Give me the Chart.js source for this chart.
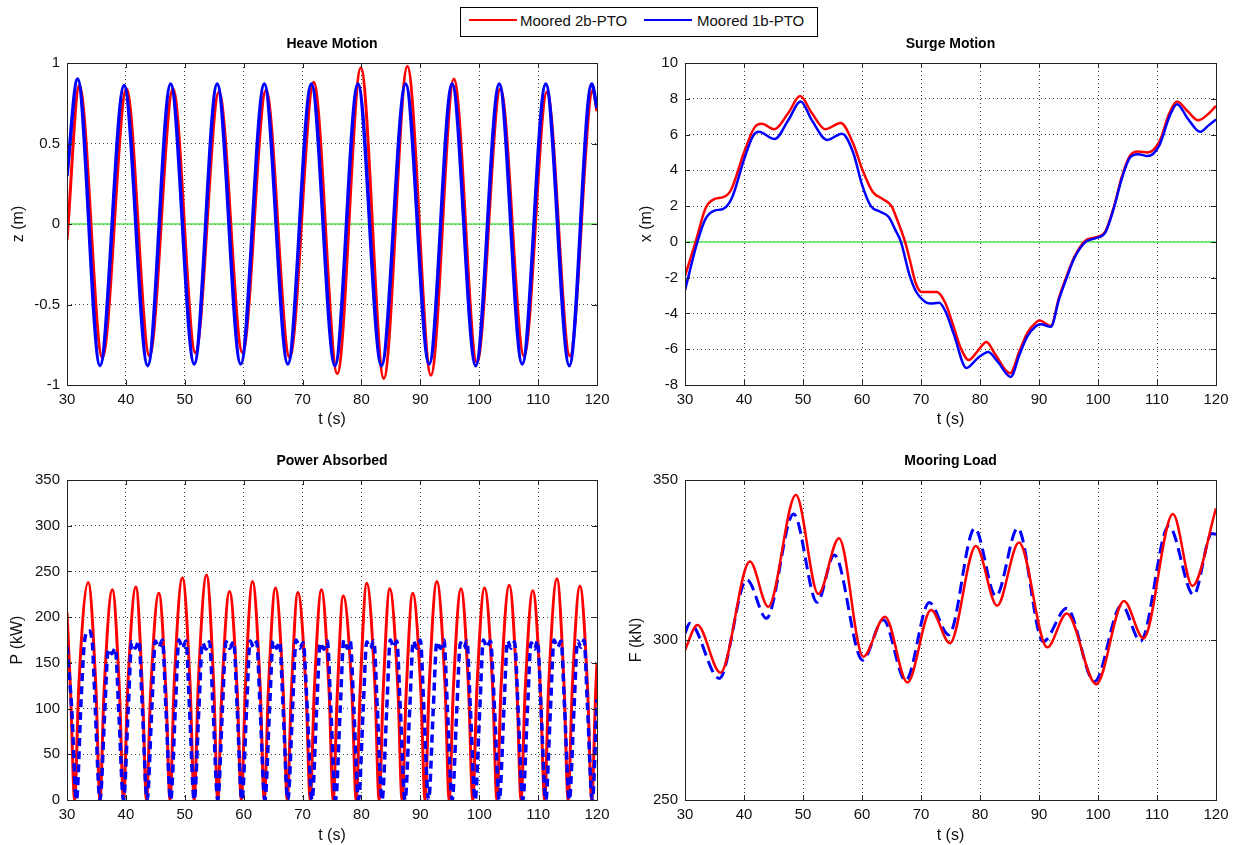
<!DOCTYPE html>
<html>
<head>
<meta charset="utf-8">
<title>Moored 2b-PTO vs 1b-PTO</title>
<script src="https://cdn.jsdelivr.net/npm/chart.js@4.4.1/dist/chart.umd.min.js"></script>
<style>
  body { margin: 0; background: #fff; width: 1235px; height: 845px; position: relative; overflow: hidden;
         font-family: "Liberation Sans", Arial, sans-serif; }
  canvas { position: absolute; }
  #legend { position: absolute; left: 460px; top: 7px; width: 356px; height: 28px; border: 1px solid #000; background: #fff; }
  #legend .sw { position: absolute; top: 11px; height: 2px; width: 48px; }
  #legend .lb { position: absolute; top: 3px; font-size: 15px; line-height: 20px; color: #111; white-space: nowrap; }
</style>
</head>
<body>
<div id="legend">
  <div class="sw" style="left:8px;background:#ff0000"></div><div class="lb" style="left:59px">Moored 2b-PTO</div>
  <div class="sw" style="left:183px;background:#0000ff"></div><div class="lb" style="left:236px">Moored 1b-PTO</div>
</div>
<canvas id="heave" width="620" height="410" style="left:0;top:30px"></canvas>
<canvas id="surge" width="615" height="410" style="left:620px;top:30px"></canvas>
<canvas id="power" width="620" height="405" style="left:0;top:440px"></canvas>
<canvas id="mooring" width="615" height="405" style="left:620px;top:440px"></canvas>
<script>
// values (t in s)
const timeTicks = [30, 40, 50, 60, 70, 80, 90, 100, 110, 120];
const zeroT = [30, 120];
const zeroV = [0, 0];

// heave z (m) - peaks and troughs
const heaveTicks = [-1, -0.5, 0, 0.5, 1];
const heaveT2b = [30, 32.1, 36.0, 40.1, 44.0, 48.0, 51.8, 55.8, 59.8, 63.8, 67.8, 71.9, 75.9, 79.9, 83.8, 87.8, 91.8, 95.7, 99.6, 103.6, 107.6, 111.5, 115.4, 119.3, 120];
const heaveZ2b = [-0.1, 0.86, -0.83, 0.84, -0.82, 0.84, -0.80, 0.82, -0.80, 0.83, -0.83, 0.88, -0.93, 0.97, -0.96, 0.98, -0.94, 0.90, -0.86, 0.84, -0.82, 0.82, -0.82, 0.83, 0.70];
const heaveT1b = [30, 31.8, 35.6, 39.7, 43.7, 47.6, 51.6, 55.5, 59.5, 63.5, 67.5, 71.5, 75.5, 79.4, 83.4, 87.5, 91.5, 95.4, 99.4, 103.4, 107.3, 111.3, 115.3, 119.1, 120];
const heaveZ1b = [0.3, 0.90, -0.88, 0.86, -0.88, 0.87, -0.87, 0.87, -0.87, 0.87, -0.87, 0.87, -0.88, 0.87, -0.88, 0.87, -0.87, 0.87, -0.88, 0.87, -0.87, 0.87, -0.88, 0.87, 0.72];

// surge x (m)
const surgeTicks = [-8, -6, -4, -2, 0, 2, 4, 6, 8, 10];
const surgeT2b = [30, 31.8, 33.5, 35.0, 36.5, 37.8, 40.0, 41.8, 43.0, 45.1, 47.5, 49.5, 51.5, 53.8, 56.4, 58.5, 60.1, 61.8, 63.5, 65.0, 66.0, 67.3, 68.1, 69.1, 70.1, 72.7, 74.1, 75.4, 76.7, 78.1, 79.6, 81.1, 82.6, 85.1, 86.7, 88.0, 89.5, 90.1, 92.0, 93.4, 94.7, 96.0, 97.8, 99.5, 101.2, 102.7, 104.0, 105.4, 106.8, 108.4, 110.4, 112.1, 113.4, 115.2, 117.0, 118.5, 120];
const surgeX2b = [-1.9, 0.0, 1.9, 2.4, 2.5, 2.9, 5.0, 6.4, 6.6, 6.3, 7.2, 8.15, 7.2, 6.3, 6.65, 5.5, 4.0, 2.8, 2.4, 2.0, 1.2, 0.0, -1.0, -2.3, -2.8, -2.8, -3.4, -4.6, -5.9, -6.6, -6.1, -5.6, -6.3, -7.35, -6.1, -5.1, -4.5, -4.4, -4.7, -3.1, -1.9, -0.84, 0.05, 0.25, 0.56, 1.96, 3.6, 4.8, 5.05, 5.0, 5.6, 7.2, 7.85, 7.3, 6.8, 7.1, 7.6];
const surgeT1b = [30, 32.1, 33.5, 35.0, 36.5, 38.0, 40.0, 41.5, 42.5, 45.2, 47.5, 49.6, 51.5, 54.1, 56.6, 58.5, 60.0, 61.5, 63.0, 64.5, 65.6, 66.6, 68.0, 69.2, 70.5, 71.5, 73.1, 74.3, 75.6, 77.7, 79.6, 81.4, 83.0, 85.2, 86.7, 88.0, 89.5, 90.3, 92.0, 93.4, 94.7, 96.0, 97.9, 99.5, 101.2, 102.7, 104.0, 105.4, 106.8, 108.4, 110.4, 112.1, 113.4, 115.2, 117.3, 118.7, 120];
const surgeX1b = [-2.7, 0.0, 1.3, 1.75, 1.85, 2.5, 4.6, 5.9, 6.15, 5.75, 6.8, 7.85, 6.8, 5.7, 6.05, 5.0, 3.2, 2.0, 1.7, 1.4, 0.7, 0.0, -1.8, -2.8, -3.3, -3.45, -3.4, -4.0, -5.2, -7.05, -6.5, -6.15, -6.7, -7.55, -6.3, -5.3, -4.7, -4.6, -4.75, -3.2, -2.0, -0.9, 0.0, 0.2, 0.5, 1.9, 3.5, 4.7, 4.9, 4.8, 5.4, 7.0, 7.7, 6.9, 6.15, 6.5, 6.85];

// power P (kW): zeros, flanks and peaks of each lobe
const powerTicks = [0, 50, 100, 150, 200, 250, 300, 350];
const powerT2b = [30, 30.6, 31.3,
  32.0, 33.6, 34.9, 35.6, 36.3, 37.7, 38.9, 39.6, 40.3, 41.7, 42.8, 43.5, 44.2, 45.6, 46.8, 47.5,
  48.2, 49.6, 50.9, 51.6, 52.3, 53.7, 54.9, 55.6, 56.3, 57.6, 58.9, 59.6, 60.3, 61.5, 62.8, 63.5,
  64.2, 65.4, 66.7, 67.4, 68.1, 69.2, 70.6, 71.3, 72.0, 73.2, 74.5, 75.2, 75.9, 76.9, 78.4, 79.1,
  79.8, 80.9, 82.3, 83.0, 83.7, 84.8, 86.2, 86.9, 87.6, 88.7, 90.1, 90.8, 91.5, 92.8, 94.2, 94.9,
  95.6, 96.9, 98.2, 98.9, 99.6, 100.9, 102.3, 103.0, 103.7, 105.1, 106.4, 107.1, 107.8, 109.1, 110.4, 111.1,
  111.8, 113.2, 114.4, 115.1, 115.8, 117.1, 118.4, 119.1, 119.8, 120];
const powerP2b = [205, 120, 0,
  124, 238, 124, 0, 120, 230, 120, 0, 121, 233, 121, 0, 118, 226, 118, 0,
  126, 243, 126, 0, 128, 246, 128, 0, 119, 228, 119, 0, 124, 239, 124, 0,
  121, 232, 121, 0, 118, 227, 118, 0, 120, 230, 120, 0, 116, 223, 116, 0,
  123, 237, 123, 0, 120, 231, 120, 0, 118, 226, 118, 0, 124, 239, 124, 0,
  120, 231, 120, 0, 121, 232, 121, 0, 122, 235, 122, 0, 119, 229, 119, 0,
  126, 242, 126, 0, 122, 234, 122, 0, 122, 150];
const powerT1b = [30, 30.8, 31.6,
  32.4, 33.0, 33.7, 34.3, 34.8, 35.6, 36.4, 37.0, 37.6, 38.2, 38.8, 39.6,
  40.4, 41.0, 41.6, 42.2, 42.8, 43.6, 44.4, 45.0, 45.6, 46.2, 46.8, 47.6,
  48.4, 49.0, 49.6, 50.2, 50.8, 51.6, 52.4, 53.0, 53.6, 54.2, 54.8, 55.6,
  56.4, 57.0, 57.6, 58.3, 58.9, 59.7, 60.5, 61.1, 61.7, 62.2, 62.8, 63.6,
  64.4, 65.0, 65.6, 66.1, 66.7, 67.5, 68.3, 68.9, 69.5, 70.1, 70.8, 71.6,
  72.4, 73.0, 73.6, 74.2, 74.8, 75.6, 76.4, 77.0, 77.6, 78.1, 78.7, 79.5,
  80.3, 80.9, 81.5, 82.1, 82.7, 83.5, 84.3, 84.9, 85.5, 86.0, 86.6, 87.4,
  88.2, 88.8, 89.4, 90.0, 90.6, 91.4, 92.2, 92.8, 93.4, 94.0, 94.6, 95.4,
  96.2, 96.8, 97.4, 97.9, 98.5, 99.3, 100.1, 100.7, 101.3, 101.9, 102.6, 103.4,
  104.2, 104.8, 105.4, 106.0, 106.6, 107.4, 108.2, 108.8, 109.4, 109.9, 110.5, 111.3,
  112.1, 112.7, 113.3, 113.9, 114.5, 115.3, 116.1, 116.7, 117.3, 117.8, 118.4, 119.2, 120];
const powerP1b = [168, 100, 0,
  110, 175, 185, 172, 100, 0, 95, 165, 160, 166, 95, 0,
  100, 173, 166, 174, 100, 0, 100, 174, 167, 175, 100, 0,
  100, 175, 166, 174, 100, 0, 100, 172, 165, 173, 100, 0,
  100, 173, 166, 173, 100, 0, 100, 174, 167, 173, 100, 0,
  100, 174, 166, 173, 100, 0, 100, 175, 166, 172, 100, 0,
  100, 172, 165, 174, 100, 0, 100, 175, 166, 174, 100, 0,
  100, 173, 166, 174, 100, 0, 100, 175, 167, 174, 100, 0,
  100, 174, 166, 175, 100, 0, 100, 173, 166, 175, 100, 0,
  100, 172, 166, 174, 100, 0, 100, 175, 167, 174, 100, 0,
  100, 174, 166, 173, 100, 0, 100, 172, 165, 174, 100, 0,
  100, 175, 167, 174, 100, 0, 100, 174, 167, 175, 100, 0, 110];

// mooring load F (kN)
const mooringTicks = [250, 300, 350];
const mooringT2b = [30, 32.1, 36.0, 41.0, 44.1, 48.8, 52.6, 56.1, 60.2, 63.9, 67.7, 71.7, 74.9, 79.3, 82.9, 86.6, 91.4, 94.7, 99.7, 104.4, 107.7, 112.7, 116.0, 120];
const mooringF2b = [296.9, 304.7, 289.8, 324.5, 310.4, 345.3, 314.4, 331.8, 294.8, 307.3, 286.7, 309.4, 299.0, 329.4, 310.7, 330.5, 297.7, 308.3, 286.2, 312.2, 300.5, 339.4, 316.9, 341.1];
const mooringT1b = [30, 30.8, 35.8, 40.5, 43.8, 48.4, 52.4, 55.3, 60.1, 63.6, 67.4, 71.4, 74.7, 79.1, 82.7, 86.4, 90.7, 94.7, 99.4, 104.0, 107.2, 112.0, 116.2, 119.3, 120];
const mooringF1b = [302.1, 305.2, 288.0, 318.8, 306.8, 339.4, 311.8, 326.6, 293.7, 306.3, 287.3, 311.7, 301.6, 334.9, 313.7, 334.9, 299.5, 309.9, 287.0, 310.9, 299.7, 335.6, 314.1, 333.3, 333.0];

const RED = '#ff0000', BLUE = '#0000ff', GREEN = 'rgb(80,230,80)';
const FONT = '"Liberation Sans", Arial, sans-serif';

const pts = (ts, vs) => ts.map((t, i) => ({ x: t, y: vs[i] }));

// MATLAB-like box, inward ticks and panel title
const boxPlugin = {
  id: 'boxFrame',
  afterDraw(chart, args, opts) {
    const { ctx, chartArea: a } = chart;
    const xs = chart.scales.x, ys = chart.scales.y;
    ctx.save();
    ctx.strokeStyle = '#222';
    ctx.lineWidth = 1;
    ctx.beginPath();
    xs.ticks.forEach(t => {
      const px = Math.round(xs.getPixelForValue(t.value)) + 0.5;
      ctx.moveTo(px, a.bottom); ctx.lineTo(px, a.bottom - 5);
      ctx.moveTo(px, a.top); ctx.lineTo(px, a.top + 5);
    });
    ys.ticks.forEach(t => {
      const py = Math.round(ys.getPixelForValue(t.value)) + 0.5;
      ctx.moveTo(a.left, py); ctx.lineTo(a.left + 5, py);
      ctx.moveTo(a.right, py); ctx.lineTo(a.right - 5, py);
    });
    ctx.stroke();
    ctx.strokeRect(Math.round(a.left) + 0.5, Math.round(a.top) + 0.5, Math.round(a.right - a.left), Math.round(a.bottom - a.top));
    ctx.fillStyle = '#000';
    ctx.font = 'bold 14px ' + FONT;
    ctx.textAlign = 'center';
    ctx.textBaseline = 'middle';
    ctx.fillText(opts.text, (a.left + a.right) / 2, a.top - 19);
    ctx.restore();
  }
};

function makePanel(id, o) {
  const ticksFrom = arr => s => { s.ticks = arr.map(v => ({ value: v })); };
  return new Chart(document.getElementById(id), {
    type: 'line',
    data: { datasets: o.datasets },
    options: {
      responsive: false,
      animation: false,
      layout: { padding: { top: o.top, right: o.right, left: 0, bottom: 0 } },
      elements: { point: { radius: 0 }, line: { cubicInterpolationMode: 'monotone' } },
      plugins: { legend: { display: false }, tooltip: { enabled: false }, boxFrame: { text: o.title } },
      scales: {
        x: {
          type: 'linear', min: timeTicks[0], max: timeTicks[timeTicks.length - 1],
          afterBuildTicks: ticksFrom(timeTicks),
          afterFit: s => { s.height = o.xh; },
          grid: { color: 'rgba(0,0,0,0.75)', lineWidth: 1, drawTicks: false },
          border: { display: false, dash: [1, 3] },
          ticks: { color: '#111', font: { family: FONT, size: 15 }, padding: 6, maxRotation: 0, callback: v => String(v) },
          title: { display: true, text: 't (s)', color: '#111', font: { family: FONT, size: 16 }, padding: { top: 0, bottom: o.xtp } }
        },
        y: {
          type: 'linear', min: o.yTicks[0], max: o.yTicks[o.yTicks.length - 1],
          afterBuildTicks: ticksFrom(o.yTicks),
          afterFit: s => { s.width = o.yw; },
          grid: { color: 'rgba(0,0,0,0.75)', lineWidth: 1, drawTicks: false },
          border: { display: false, dash: [1, 3] },
          ticks: { color: '#111', font: { family: FONT, size: 15 }, padding: 7, callback: v => String(v) },
          title: { display: true, text: o.ylabel, color: '#111', font: { family: FONT, size: 16 }, padding: { top: o.ytp, bottom: 0 } }
        }
      }
    },
    plugins: [boxPlugin]
  });
}

const zeroLine = { data: pts(zeroT, zeroV), borderColor: GREEN, borderWidth: 1.5, order: 3 };

makePanel('heave', {
  title: 'Heave Motion', ylabel: 'z (m)', yTicks: heaveTicks,
  top: 33, right: 23, xh: 55, yw: 67, xtp: 11, ytp: 9,
  datasets: [
    { ...zeroLine },
    { data: pts(heaveT2b, heaveZ2b), borderColor: RED, borderWidth: 3, order: 2 },
    { data: pts(heaveT1b, heaveZ1b), borderColor: BLUE, borderWidth: 3.5, order: 1 }
  ]
});

makePanel('surge', {
  title: 'Surge Motion', ylabel: 'x (m)', yTicks: surgeTicks,
  top: 33, right: 19, xh: 55, yw: 65, xtp: 11, ytp: 17,
  datasets: [
    { ...zeroLine },
    { data: pts(surgeT2b, surgeX2b), borderColor: RED, borderWidth: 2.5, order: 2 },
    { data: pts(surgeT1b, surgeX1b), borderColor: BLUE, borderWidth: 2.5, order: 1 }
  ]
});

makePanel('power', {
  title: 'Power Absorbed', ylabel: 'P (kW)', yTicks: powerTicks,
  top: 40, right: 23, xh: 45, yw: 67, xtp: 0, ytp: 8,
  datasets: [
    { data: pts(powerT2b, powerP2b), borderColor: RED, borderWidth: 3, order: 2 },
    { data: pts(powerT1b, powerP1b), borderColor: BLUE, borderWidth: 3.5, borderDash: [8, 5], order: 1 }
  ]
});

makePanel('mooring', {
  title: 'Mooring Load', ylabel: 'F (kN)', yTicks: mooringTicks,
  top: 40, right: 19, xh: 45, yw: 65, xtp: 0, ytp: 7,
  datasets: [
    { data: pts(mooringT2b, mooringF2b), borderColor: RED, borderWidth: 2.5, order: 1 },
    { data: pts(mooringT1b, mooringF1b), borderColor: BLUE, borderWidth: 3, borderDash: [12, 6], order: 2 }
  ]
});
</script>
</body>
</html>
